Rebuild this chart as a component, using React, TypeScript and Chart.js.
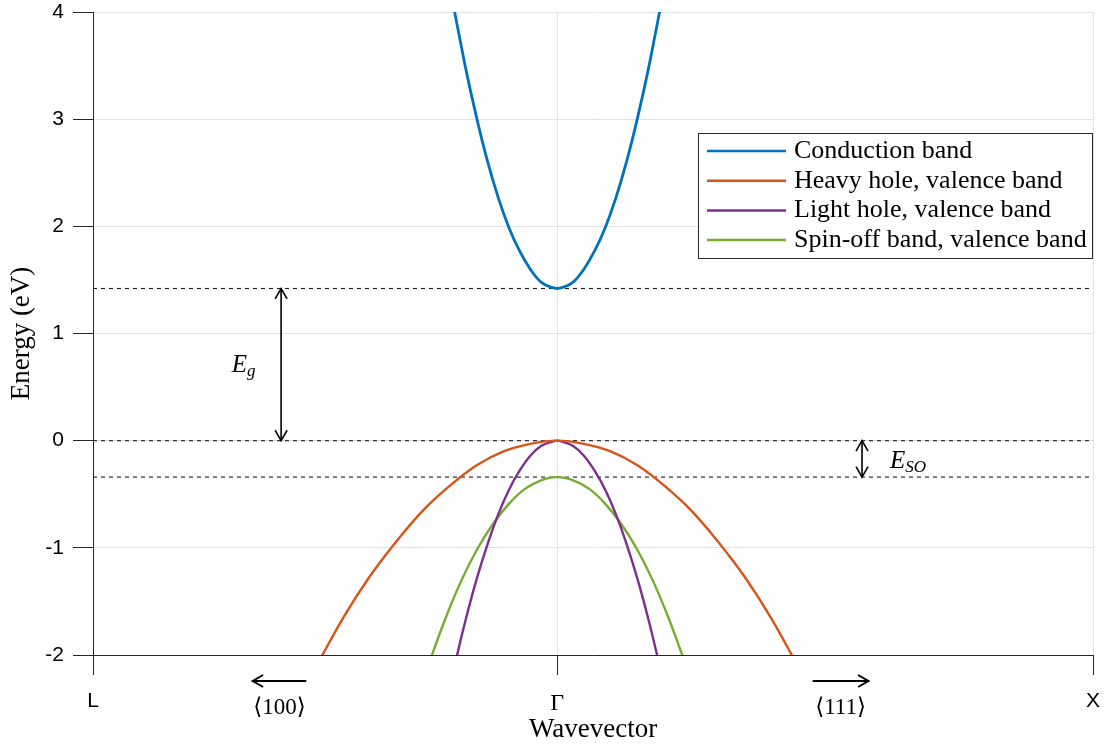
import React, { useEffect, useRef } from 'react';
import { Chart, registerables } from 'chart.js';

Chart.register(...registerables);

// x positions (in units of 2π/a): L, Γ, X
const xTickValues = [-0.866, 0, 1];
const xTickLabels = ['L', 'Γ', 'X'];
const yTickValues = [-2, -1, 0, 1, 2, 3, 4];

const seriesNames = [
  'Conduction band',
  'Heavy hole, valence band',
  'Light hole, valence band',
  'Spin-off band, valence band',
];
const seriesColors = ['#0072BD', '#D95319', '#7E2F8E', '#77AC30'];

// Conduction band
const conductionK = [-0.195, -0.19, -0.17, -0.15, -0.13, -0.11, -0.09, -0.07, -0.05, -0.03, -0.01, 0, 0.01, 0.03, 0.05, 0.07, 0.09, 0.11, 0.13, 0.15, 0.17, 0.19, 0.195];
const conductionE = [4.1, 3.97, 3.46, 3.01, 2.61, 2.27, 1.99, 1.77, 1.6, 1.48, 1.43, 1.42, 1.43, 1.48, 1.6, 1.77, 1.99, 2.27, 2.61, 3.01, 3.46, 3.97, 4.1];

// Heavy hole band
const heavyK = [-0.45, -0.4, -0.35, -0.3, -0.25, -0.2, -0.15, -0.1, -0.05, 0, 0.05, 0.1, 0.15, 0.2, 0.25, 0.3, 0.35, 0.4, 0.45];
const heavyE = [-2.11, -1.66, -1.27, -0.94, -0.65, -0.42, -0.23, -0.1, -0.03, 0, -0.03, -0.1, -0.23, -0.42, -0.65, -0.94, -1.27, -1.66, -2.11];

// Light hole band
const lightK = [-0.19, -0.17, -0.15, -0.13, -0.11, -0.09, -0.07, -0.05, -0.03, -0.01, 0, 0.01, 0.03, 0.05, 0.07, 0.09, 0.11, 0.13, 0.15, 0.17, 0.19];
const lightE = [-2.07, -1.66, -1.29, -0.97, -0.69, -0.46, -0.28, -0.14, -0.05, -0.01, 0, -0.01, -0.05, -0.14, -0.28, -0.46, -0.69, -0.97, -1.29, -1.66, -2.07];

// Spin-off band
const spinK = [-0.24, -0.21, -0.18, -0.15, -0.12, -0.09, -0.06, -0.03, 0, 0.03, 0.06, 0.09, 0.12, 0.15, 0.18, 0.21, 0.24];
const spinE = [-2.09, -1.68, -1.32, -1.02, -0.78, -0.59, -0.45, -0.37, -0.34, -0.37, -0.45, -0.59, -0.78, -1.02, -1.32, -1.68, -2.09];

// Reference energy levels (dashed): CB minimum, VB maximum, split-off maximum
const levelValues = [1.42, 0, -0.34];

const SERIF = '"Liberation Serif", "DejaVu Serif", serif';
const SANS = '"Liberation Sans", Arial, sans-serif';

function toPoints(k: number[], e: number[]) {
  return k.map((v, i) => ({ x: v, y: e[i] }));
}

function drawArrowHead(ctx: CanvasRenderingContext2D, x: number, y: number, angle: number, len: number) {
  const spread = Math.PI / 6;
  ctx.beginPath();
  ctx.moveTo(x - len * Math.cos(angle - spread), y - len * Math.sin(angle - spread));
  ctx.lineTo(x, y);
  ctx.lineTo(x - len * Math.cos(angle + spread), y - len * Math.sin(angle + spread));
  ctx.stroke();
}

function drawArrow(ctx: CanvasRenderingContext2D, x1: number, y1: number, x2: number, y2: number, both: boolean) {
  ctx.beginPath();
  ctx.moveTo(x1, y1);
  ctx.lineTo(x2, y2);
  ctx.stroke();
  const a = Math.atan2(y2 - y1, x2 - x1);
  drawArrowHead(ctx, x2, y2, a, 12);
  if (both) drawArrowHead(ctx, x1, y1, a + Math.PI, 12);
}

const zeroPad = (s: any) => {
  s.paddingTop = 0;
  s.paddingBottom = 0;
  s.paddingLeft = 0;
  s.paddingRight = 0;
};

const annotationPlugin = {
  id: 'bandAnnotations',
  afterDatasetsDraw(chart: any) {
    const { ctx, chartArea, scales } = chart;
    const xs = scales.x;
    const ys = scales.y;
    ctx.save();
    ctx.strokeStyle = '#000';
    ctx.fillStyle = '#000';
    ctx.lineWidth = 1.6;

    // Eg arrow
    const egX = xs.getPixelForValue(-0.515);
    drawArrow(ctx, egX, ys.getPixelForValue(levelValues[1]), egX, ys.getPixelForValue(levelValues[0]), true);
    // ESO arrow
    const soX = xs.getPixelForValue(0.569);
    drawArrow(ctx, soX, ys.getPixelForValue(levelValues[2]), soX, ys.getPixelForValue(levelValues[1]), true);

    // labels
    ctx.textBaseline = 'alphabetic';
    ctx.textAlign = 'left';
    const egLx = xs.getPixelForValue(-0.607);
    const egLy = ys.getPixelForValue(0.64);
    ctx.font = `italic 25px ${SERIF}`;
    ctx.fillText('E', egLx, egLy);
    const ew = ctx.measureText('E').width;
    ctx.font = `italic 17px ${SERIF}`;
    ctx.fillText('g', egLx + ew, egLy + 4);

    const soLx = xs.getPixelForValue(0.621);
    const soLy = ys.getPixelForValue(-0.255);
    ctx.font = `italic 25px ${SERIF}`;
    ctx.fillText('E', soLx, soLy);
    const ew2 = ctx.measureText('E').width;
    ctx.font = `italic 17px ${SERIF}`;
    ctx.fillText('SO', soLx + ew2, soLy + 4);

    // direction arrows below axis
    const by = chartArea.bottom + 26;
    ctx.lineWidth = 2;
    drawArrow(ctx, xs.getPixelForValue(-0.468), by, xs.getPixelForValue(-0.568), by, false);
    drawArrow(ctx, xs.getPixelForValue(0.477), by, xs.getPixelForValue(0.581), by, false);
    ctx.font = `23px ${SERIF}`;
    ctx.textAlign = 'center';
    ctx.textBaseline = 'middle';
    ctx.fillText('\u27E8100\u27E9', xs.getPixelForValue(-0.518), chartArea.bottom + 53);
    ctx.fillText('\u27E8111\u27E9', xs.getPixelForValue(0.529), chartArea.bottom + 53);

    // legend
    const bw = 395;
    const bh = 126;
    const bx = chartArea.right - bw;
    const bTop = chartArea.top + 121;
    ctx.fillStyle = '#fff';
    ctx.fillRect(bx, bTop, bw, bh);
    ctx.strokeStyle = '#262626';
    ctx.lineWidth = 1;
    ctx.strokeRect(bx + 0.5, bTop + 0.5, bw - 1, bh - 1);
    ctx.font = `26px ${SERIF}`;
    ctx.textAlign = 'left';
    ctx.textBaseline = 'middle';
    seriesNames.forEach((name, i) => {
      const ry = bTop + 18 + i * 29.7;
      ctx.strokeStyle = seriesColors[i];
      ctx.lineWidth = 2.5;
      ctx.beginPath();
      ctx.moveTo(bx + 9, ry);
      ctx.lineTo(bx + 88, ry);
      ctx.stroke();
      ctx.fillStyle = '#000';
      ctx.fillText(name, bx + 96, ry);
    });
    ctx.restore();
  },
};

export default function App() {
  const ref = useRef<HTMLCanvasElement | null>(null);
  useEffect(() => {
    if (!ref.current) return;
    const bandData = [
      toPoints(conductionK, conductionE),
      toPoints(heavyK, heavyE),
      toPoints(lightK, lightE),
      toPoints(spinK, spinE),
    ];
    const datasets: any[] = bandData.map((d, i) => ({
      label: seriesNames[i],
      data: d,
      borderColor: seriesColors[i],
      backgroundColor: seriesColors[i],
      borderWidth: i === 0 ? 2.8 : 2.4,
      showLine: true,
      pointRadius: 0,
      cubicInterpolationMode: 'monotone',
      order: 1,
    }));
    levelValues.forEach((lv) => {
      datasets.push({
        label: 'level',
        data: [{ x: xTickValues[0], y: lv }, { x: xTickValues[2], y: lv }],
        borderColor: '#1a1a1a',
        borderWidth: 1.1,
        borderDash: [4, 4],
        showLine: true,
        pointRadius: 0,
        order: 2,
      });
    });
    const chart = new Chart(ref.current, {
      type: 'scatter',
      data: { datasets },
      options: {
        animation: false,
        responsive: false,
        layout: { padding: { top: 12, right: 20, left: 0, bottom: 0 } },
        plugins: { legend: { display: false }, tooltip: { enabled: false } },
        scales: {
          x: {
            type: 'linear',
            min: xTickValues[0],
            max: xTickValues[2],
            afterBuildTicks: (s: any) => {
              s.ticks = xTickValues.map((v) => ({ value: v }));
            },
            afterFit: (s: any) => { s.height = 91; zeroPad(s); },
            ticks: {
              autoSkip: false,
              maxRotation: 0,
              padding: 14,
              color: '#000',
              callback: (v: any) => {
                const i = xTickValues.indexOf(Number(v));
                return i >= 0 ? xTickLabels[i] : '';
              },
              font: (c: any) => (c.tick && c.tick.value === 0
                ? { family: SERIF, size: 24 }
                : { family: SANS, size: 21 }),
            },
            grid: { color: '#e2e2e2', tickColor: '#262626', tickLength: 20, lineWidth: 1 },
            border: { color: '#262626', width: 1 },
            title: { display: true, text: 'Wavevector', color: '#000', font: { family: SERIF, size: 27 }, padding: { top: 2, bottom: 0 } },
          },
          y: {
            type: 'linear',
            min: -2,
            max: 4,
            afterBuildTicks: (s: any) => {
              s.ticks = yTickValues.map((v) => ({ value: v }));
            },
            afterFit: (s: any) => { s.width = 93; zeroPad(s); },
            ticks: { padding: 9, color: '#000', font: { family: SANS, size: 21 } },
            grid: { color: '#e2e2e2', tickColor: '#262626', tickLength: 20, lineWidth: 1 },
            border: { color: '#262626', width: 1 },
            title: { display: true, text: 'Energy (eV)', color: '#000', font: { family: SERIF, size: 27 }, padding: { top: 6, bottom: 0 } },
          },
        },
      },
      plugins: [annotationPlugin],
    } as any);
    return () => chart.destroy();
  }, []);
  return (
    <div style={{ position: 'fixed', left: 0, top: 0, width: 1113, height: 746, background: '#fff' }}>
      <canvas ref={ref} width={1113} height={746} style={{ width: 1113, height: 746 }} />
    </div>
  );
}
